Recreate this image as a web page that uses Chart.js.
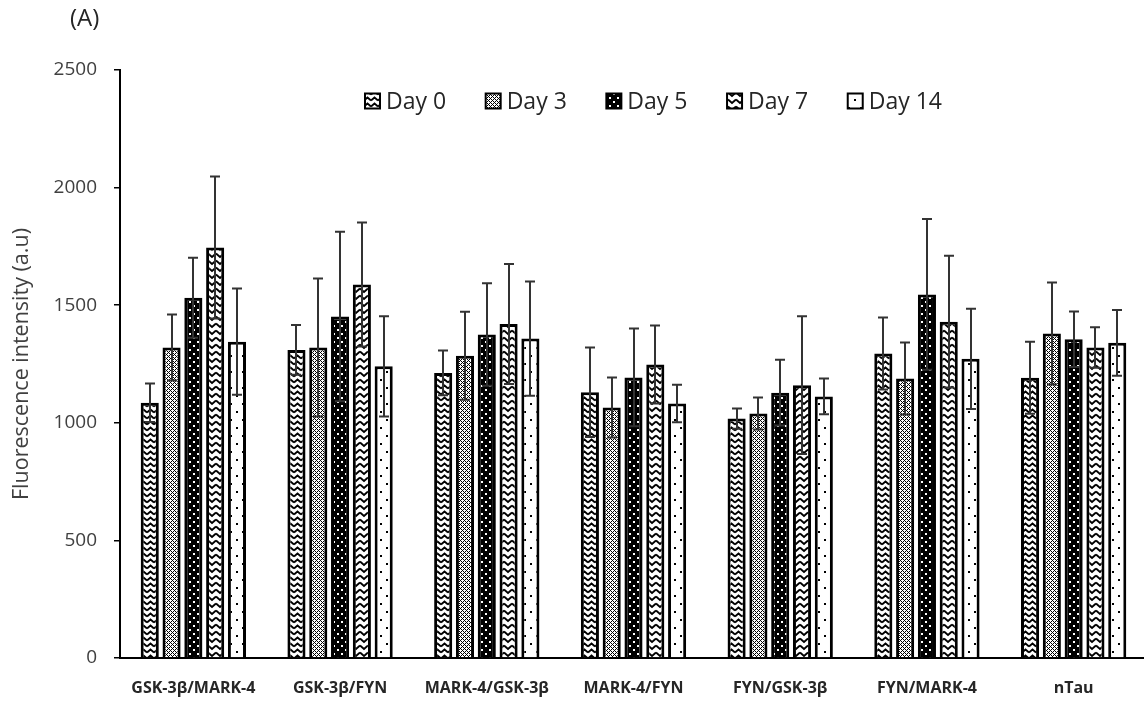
<!DOCTYPE html>
<html>
<head>
<meta charset="utf-8">
<script src="https://cdn.jsdelivr.net/npm/chart.js@4.4.1/dist/chart.umd.min.js"></script>
<style>
  html, body { margin: 0; padding: 0; background: #fff; overflow: hidden; }
  #wrap { width: 1150px; height: 702px; }
</style>
</head>
<body>
<div id="wrap"><canvas id="chartFluo"></canvas></div>
<script>
// ---------- datos ----------
const grupos = ['GSK-3β/MARK-4', 'GSK-3β/FYN', 'MARK-4/GSK-3β', 'MARK-4/FYN', 'FYN/GSK-3β', 'FYN/MARK-4', 'nTau'];
const dias = ['Day 0', 'Day 3', 'Day 5', 'Day 7', 'Day 14'];

const day0 = [1085, 1310, 1212, 1130, 1018, 1295, 1192];
const day3 = [1320, 1320, 1285, 1065, 1040, 1188, 1380];
const day5 = [1532, 1452, 1375, 1193, 1128, 1546, 1355];
const day7 = [1745, 1588, 1420, 1248, 1160, 1430, 1320];
const day14 = [1345, 1240, 1358, 1082, 1112, 1272, 1340];

const day0Err = [82, 106, 95, 190, 43, 153, 153];
const day3Err = [140, 293, 187, 128, 68, 153, 217];
const day5Err = [170, 360, 218, 208, 140, 320, 118];
const day7Err = [302, 264, 255, 166, 293, 280, 86];
const day14Err = [226, 213, 243, 80, 76, 213, 140];

const yTicks = [0, 500, 1000, 1500, 2000, 2500];

const canvas = document.getElementById('chartFluo');
const ctxMain = canvas.getContext('2d');

// ---------- tramas ----------
function trama(w, h, dibuja) {
  const c = document.createElement('canvas');
  c.width = w; c.height = h;
  const g = c.getContext('2d');
  dibuja(g, w, h);
  return ctxMain.createPattern(c, 'repeat');
}

const tramaZigzag = trama(7, 6, (g, w, h) => {
  g.fillStyle = '#fff'; g.fillRect(0, 0, w, h);
  g.strokeStyle = '#000'; g.lineWidth = 1.8;
  g.beginPath(); g.moveTo(0, 4.5); g.lineTo(3.5, 1.5); g.lineTo(7, 4.5); g.stroke();
});
const tramaCuadros = trama(4, 4, (g, w, h) => {
  g.fillStyle = '#fff'; g.fillRect(0, 0, w, h);
  g.fillStyle = '#000';
  for (let x = 0; x < 4; x++) for (let y = 0; y < 4; y++) {
    if ((x + y) % 4 === 0 || (x - y + 4) % 4 === 0) g.fillRect(x, y, 1, 1);
  }
});
const tramaNegra = trama(8, 8, (g, w, h) => {
  g.fillStyle = '#000'; g.fillRect(0, 0, w, h);
  g.fillStyle = '#fff';
  g.fillRect(1, 1, 2, 2); g.fillRect(5, 5, 2, 2);
});
const tramaOnda = trama(8, 7, (g, w, h) => {
  g.fillStyle = '#fff'; g.fillRect(0, 0, w, h);
  g.strokeStyle = '#000'; g.lineWidth = 1.9;
  g.beginPath(); g.moveTo(0, 1.5); g.lineTo(4, 5); g.lineTo(8, 1.5); g.stroke();
});
const tramaPuntos = trama(12, 16, (g, w, h) => {
  g.fillStyle = '#fff'; g.fillRect(0, 0, w, h);
  g.fillStyle = '#000';
  g.fillRect(2, 3, 2, 2); g.fillRect(8, 11, 2, 2);
});

// ---------- plugin: barras de error ----------
const barrasError = {
  id: 'barrasError',
  afterDatasetsDraw(chart) {
    const ctx = chart.ctx;
    const y = chart.scales.y;
    ctx.save();
    ctx.strokeStyle = '#333';
    ctx.lineWidth = 2;
    chart.data.datasets.forEach((ds, i) => {
      chart.getDatasetMeta(i).data.forEach((bar, j) => {
        const v = ds.data[j];
        const e = ds.errores[j];
        const x = Math.round(bar.x);
        const arriba = y.getPixelForValue(v + e);
        const abajo = y.getPixelForValue(v - e);
        ctx.beginPath();
        ctx.moveTo(x, arriba); ctx.lineTo(x, abajo);
        ctx.moveTo(x - 5, arriba); ctx.lineTo(x + 5, arriba);
        ctx.moveTo(x - 5, abajo); ctx.lineTo(x + 5, abajo);
        ctx.stroke();
      });
    });
    ctx.restore();
  }
};

// ---------- plugin: leyenda y rótulo (A) ----------
const leyenda = {
  id: 'leyenda',
  afterDraw(chart) {
    const ctx = chart.ctx;
    ctx.save();
    ctx.fillStyle = '#262626';
    ctx.font = '24px "Open Sans"';
    ctx.textBaseline = 'middle';
    ctx.fillText('(A)', 70, 19);

    ctx.font = '23px "Open Sans"';
    const caja = 15, sep = 6;
    const anchos = chart.data.datasets.map(ds => ctx.measureText(ds.label).width);
    const total = anchos.reduce((a, b) => a + b + caja + sep, 0);
    const hueco = (942 - 365 - total) / (anchos.length - 1);
    let x = 365;
    const yc = 101;
    chart.data.datasets.forEach((ds, i) => {
      ctx.fillStyle = ds.backgroundColor;
      ctx.fillRect(x, yc - caja / 2, caja, caja);
      ctx.strokeStyle = '#000';
      ctx.lineWidth = 2;
      ctx.strokeRect(x, yc - caja / 2, caja, caja);
      ctx.fillStyle = '#262626';
      ctx.fillText(ds.label, x + caja + sep, yc + 1);
      x += caja + sep + anchos[i] + hueco;
    });
    ctx.restore();
  }
};

function serie(label, data, errores, fondo) {
  return {
    label: label,
    data: data,
    errores: errores,
    backgroundColor: fondo,
    borderColor: '#000',
    borderWidth: 3,
    barPercentage: 0.83,
    categoryPercentage: 0.743
  };
}

new Chart(ctxMain, {
  type: 'bar',
  data: {
    labels: grupos,
    datasets: [
      serie(dias[0], day0, day0Err, tramaZigzag),
      serie(dias[1], day3, day3Err, tramaCuadros),
      serie(dias[2], day5, day5Err, tramaNegra),
      serie(dias[3], day7, day7Err, tramaOnda),
      serie(dias[4], day14, day14Err, tramaPuntos)
    ]
  },
  options: {
    responsive: true,
    maintainAspectRatio: false,
    animation: false,
    devicePixelRatio: 1,
    layout: { padding: { top: 70, right: 3, bottom: 0, left: 0 } },
    plugins: {
      legend: { display: false },
      tooltip: { enabled: false }
    },
    scales: {
      x: {
        grid: { display: true, drawOnChartArea: false, drawTicks: false },
        border: { color: '#000', width: 2 },
        ticks: {
          color: '#262626',
          padding: 21,
          font: { family: 'Open Sans', size: 16, weight: 'bold' }
        },
        afterFit: (s) => { s.height = 44; }
      },
      y: {
        min: 0,
        max: 2500,
        afterBuildTicks: (s) => { s.ticks = yTicks.map(v => ({ value: v })); },
        grid: { display: true, drawOnChartArea: false, drawTicks: true, tickLength: 6, color: '#000', lineWidth: 1.5 },
        border: { color: '#000', width: 2 },
        ticks: {
          color: '#404040',
          padding: 17,
          font: { family: 'Open Sans', size: 19 },
          callback: (v) => String(v)
        },
        title: {
          display: true,
          text: 'Fluorescence intensity (a.u)',
          color: '#404040',
          padding: { top: 9, bottom: 0 },
          font: { family: 'Open Sans', size: 21.5 }
        },
        afterFit: (s) => { s.width = 120; }
      }
    }
  },
  plugins: [barrasError, leyenda]
});
</script>
</body>
</html>
